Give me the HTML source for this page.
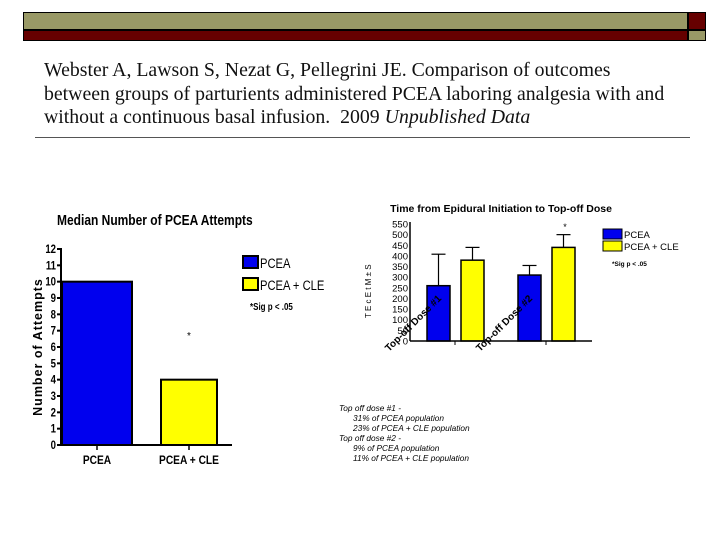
<!DOCTYPE html>
<html><head><meta charset="utf-8">
<style>
body{margin:0;width:720px;height:540px;background:#fff;overflow:hidden;position:relative;font-family:"Liberation Sans",sans-serif}
.cite{position:absolute;left:44px;top:59px;font-family:"Liberation Serif",serif;font-size:19.8px;line-height:23.5px;color:#111;white-space:nowrap}
</style></head><body>
<div style="position:absolute;left:23px;top:12px;width:665px;height:18px;background:#999966;border:1px solid #000;box-sizing:border-box"></div>
<div style="position:absolute;left:23px;top:30px;width:665px;height:11px;background:#660000;border:1px solid #000;box-sizing:border-box"></div>
<div style="position:absolute;left:688px;top:12px;width:18px;height:18px;background:#660000;border:1px solid #000;box-sizing:border-box"></div>
<div style="position:absolute;left:688px;top:30px;width:18px;height:11px;background:#999966;border:1px solid #000;box-sizing:border-box"></div>
<div class="cite">Webster A, Lawson S, Nezat G, Pellegrini JE. Comparison of outcomes<br>between groups of parturients administered PCEA laboring analgesia with and<br>without a continuous basal infusion.&nbsp; 2009 <i>Unpublished Data</i></div>
<div style="position:absolute;left:35px;top:137px;width:655px;height:1px;background:#555"></div>
<svg id="c" width="720" height="540" style="position:absolute;left:0;top:0"></svg>
<script>
const cats1=["PCEA","PCEA + CLE"];
const vals1=[10,4];
const ticks1=[0,1,2,3,4,5,6,7,8,9,10,11,12];
const groups2=["Top-off Dose #1","Top-off Dose #2"];
const pceaVals=[260,310];
const cleVals=[380,440];
const pceaErr=[148,45];
const cleErr=[60,60];
const ticks2=[0,50,100,150,200,250,300,350,400,450,500,550];
const notes=["Top off dose #1 -","    31% of PCEA population","    23% of PCEA + CLE population","Top off dose #2 -","    9% of PCEA population","    11% of PCEA + CLE population"];
const NS="http://www.w3.org/2000/svg";
const svg=document.getElementById('c');
function mk(t,a,txt){const e=document.createElementNS(NS,t);for(const k in a)e.setAttribute(k,a[k]);if(txt!=null)e.textContent=txt;svg.appendChild(e);return e;}
// chart 1
const y1=v=>445-v*(445-249)/12;
let e=mk('text',{x:0,y:0,'font-size':15,'font-weight':'bold',transform:'translate(57,225) scale(0.8,1)'},"Median Number of PCEA Attempts");

e=mk('text',{x:0,y:0,'font-size':12.5,'font-weight':'bold','text-anchor':'middle','letter-spacing':'1',transform:`translate(42,347) rotate(-90)`},"Number of Attempts");

ticks1.forEach(t=>{const y=y1(t);
 e=mk('line',{x1:57,x2:61,y1:y,y2:y,stroke:'#000','stroke-width':2});
 e=mk('text',{x:0,y:0,'text-anchor':'end','font-size':12,'font-weight':'bold',transform:`translate(56,${y+4}) scale(0.8,1)`},t);});
const bx1=[62,161],bw1=[70,56],col=['#0000ee','#ffff00'];
vals1.forEach((v,i)=>{e=mk('rect',{x:bx1[i],y:y1(v),width:bw1[i],height:445-y1(v),fill:col[i],stroke:'#000','stroke-width':2});
 
 e=mk('line',{x1:bx1[i]+bw1[i]/2,x2:bx1[i]+bw1[i]/2,y1:445,y2:450,stroke:'#000','stroke-width':1.5});
 e=mk('text',{x:0,y:0,'text-anchor':'middle','font-size':12,'font-weight':'bold',transform:`translate(${bx1[i]+bw1[i]/2},464) scale(0.85,1)`},cats1[i]);});
e=mk('line',{x1:61,x2:61,y1:248,y2:446,stroke:'#000','stroke-width':2});
e=mk('line',{x1:60,x2:232,y1:445,y2:445,stroke:'#000','stroke-width':2});
e=mk('text',{x:189,y:339,'text-anchor':'middle','font-size':10},"*");
[["PCEA",256],["PCEA + CLE",278]].forEach((l,i)=>{e=mk('rect',{x:243,y:l[1],width:15,height:12,fill:col[i],stroke:'#000','stroke-width':2});
 e=mk('text',{x:0,y:0,'font-size':14,transform:`translate(260,${l[1]+12}) scale(0.8,1)`},l[0]);});
e=mk('text',{x:0,y:0,'font-size':10,'font-weight':'bold',transform:'translate(250,310) scale(0.8,1)'},"*Sig p < .05");
// chart 2
const y2=v=>341-v*(341-224)/550;
e=mk('text',{x:501,y:212,'text-anchor':'middle','font-size':10.5,'font-weight':'bold'},"Time from Epidural Initiation to Top-off Dose");
ticks2.forEach(t=>{const y=y2(t);
 e=mk('text',{x:408,y:y+3.5,'text-anchor':'end','font-size':9.5},t);});
const gx=[427,518];
groups2.forEach((g,i)=>{
 [[pceaVals[i],pceaErr[i],0],[cleVals[i],cleErr[i],1]].forEach(([v,er,k])=>{
  const x=gx[i]+k*34,w=23,cx=x+w/2;
  e=mk('line',{x1:cx,x2:cx,y1:y2(v),y2:y2(v+er),stroke:'#000','stroke-width':1.2});
  e=mk('line',{x1:cx-7,x2:cx+7,y1:y2(v+er),y2:y2(v+er),stroke:'#000','stroke-width':1.2});
  e=mk('rect',{x:x,y:y2(v),width:w,height:341-y2(v),fill:col[k],stroke:'#000','stroke-width':1.5});
 });
 e=mk('line',{x1:gx[i]+28,x2:gx[i]+28,y1:341,y2:345,stroke:'#000'});
 e=mk('text',{x:0,y:0,'font-size':10,'font-weight':'bold',transform:`translate(${gx[i]-38},352) rotate(-45)`},g);
});
e=mk('text',{x:565,y:230,'text-anchor':'middle','font-size':9},"*");
e=mk('line',{x1:410,x2:410,y1:222,y2:341,stroke:'#000','stroke-width':1.5});
e=mk('line',{x1:410,x2:592,y1:341,y2:341,stroke:'#000','stroke-width':1.5});
e=mk('text',{x:0,y:0,'font-size':8,transform:'translate(371,318) rotate(-90)'},"T E c E t M ± S");
[["PCEA",229],["PCEA + CLE",241]].forEach((l,i)=>{e=mk('rect',{x:603,y:l[1],width:19,height:10,fill:col[i],stroke:'#000','stroke-width':1});
 e=mk('text',{x:624,y:l[1]+9,'font-size':9.5},l[0]);});
e=mk('text',{x:612,y:266,'font-size':6.5,'font-weight':'bold'},"*Sig p < .05");
notes.forEach((n,i)=>{e=mk('text',{x:339+(n.startsWith('    ')?14:0),y:411+i*10,'font-size':8.3,'font-style':'italic'},n.trim());});
</script>
</body></html>
